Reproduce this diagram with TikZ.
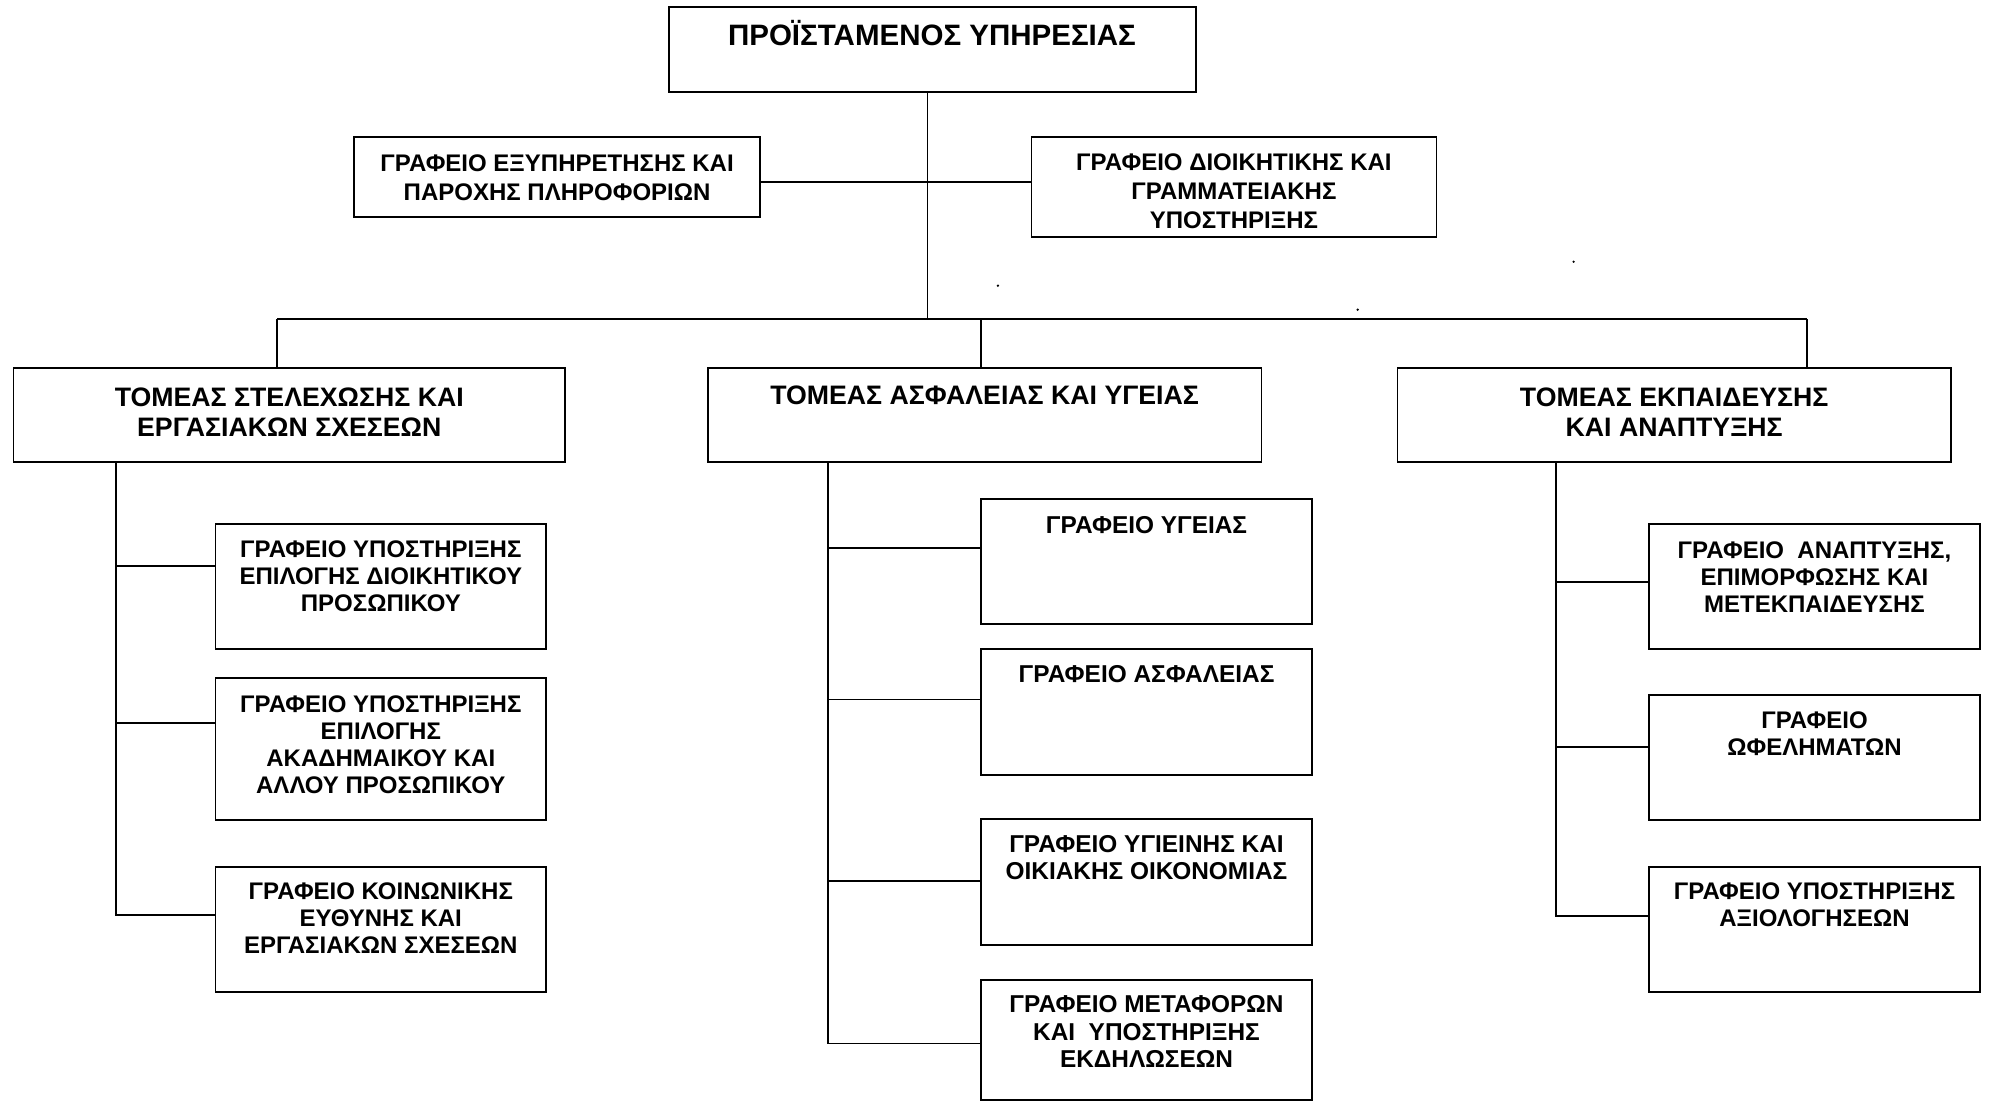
\documentclass[tikz,border=0pt]{standalone}
\usepackage{fontspec}
\setmainfont{Liberation Sans}
\newcommand\orgbox[5]{\node[box, minimum width={(#4-#2)*1pt}, minimum height={(#5-#3)*1pt}] (#1) at ({(#2+#4)/2},{(#3+#5)/2}) {};}
\begin{document}
\begin{tikzpicture}[x=1pt,y=-1pt,
  box/.style={draw, line width=1.8pt, rectangle, inner sep=0pt, outer sep=0pt},
  conn/.style={line width=1.8pt},
  ttop/.style={font=\bfseries\fontsize{29.5}{32}\selectfont, align=center, inner sep=0pt},
  tmid/.style={font=\bfseries\fontsize{24}{29}\selectfont, align=center, inner sep=0pt},
  tsec/.style={font=\bfseries\fontsize{26.7}{30}\selectfont, align=center, inner sep=0pt},
  tsub/.style={font=\bfseries\fontsize{24}{27}\selectfont, align=center, inner sep=0pt},
  tsubm/.style={font=\bfseries\fontsize{24.4}{27.5}\selectfont, align=center, inner sep=0pt},
  speck/.style={circle, fill, inner sep=0pt, minimum size=2.6pt}]
\useasboundingbox (0,0) rectangle (1990,1102);
% boxes
\orgbox{top}{668.6}{7.3}{1195.7}{91.7}
\orgbox{g1}{354.3}{136.7}{760}{216.7}
\orgbox{g2}{1031.4}{136.7}{1436.4}{236.7}
\orgbox{s1}{13.4}{368.3}{565.2}{462.3}
\orgbox{s2}{707.7}{368.3}{1261.5}{462.3}
\orgbox{s3}{1397.5}{368.3}{1950.8}{462.3}
\orgbox{l1}{215.5}{524}{546}{649.3}
\orgbox{l2}{215.5}{678.3}{546}{820}
\orgbox{l3}{215.5}{866.7}{546}{991.7}
\orgbox{m1}{981}{499}{1312}{624.3}
\orgbox{m2}{981}{649.2}{1312}{774.6}
\orgbox{m3}{981}{819.3}{1312}{944.6}
\orgbox{m4}{981}{980.2}{1312}{1100}
\orgbox{r1}{1649}{524}{1980}{649.3}
\orgbox{r2}{1649}{695}{1980}{820}
\orgbox{r3}{1649}{866.7}{1980}{991.7}
% texts
\node[ttop] (topT) at (932,33.5) {ΠΡΟΪΣΤΑΜΕΝΟΣ ΥΠΗΡΕΣΙΑΣ};
\node[tmid] (g1T) at (557.1,177.7) {ΓΡΑΦΕΙΟ ΕΞΥΠΗΡΕΤΗΣΗΣ ΚΑΙ\\ΠΑΡΟΧΗΣ ΠΛΗΡΟΦΟΡΙΩΝ};
\node[tmid] (g2T) at (1233.9,191.5) {ΓΡΑΦΕΙΟ ΔΙΟΙΚΗΤΙΚΗΣ ΚΑΙ\\ΓΡΑΜΜΑΤΕΙΑΚΗΣ\\ΥΠΟΣΤΗΡΙΞΗΣ};
\node[tsec] (s1T) at (289.3,411.7) {ΤΟΜΕΑΣ ΣΤΕΛΕΧΩΣΗΣ ΚΑΙ\\ΕΡΓΑΣΙΑΚΩΝ ΣΧΕΣΕΩΝ};
\node[tsec] (s2T) at (984.6,395) {ΤΟΜΕΑΣ ΑΣΦΑΛΕΙΑΣ ΚΑΙ ΥΓΕΙΑΣ};
\node[tsec] (s3T) at (1674.2,411.7) {ΤΟΜΕΑΣ ΕΚΠΑΙΔΕΥΣΗΣ\\ΚΑΙ ΑΝΑΠΤΥΞΗΣ};
\node[tsub] (l1T) at (380.8,576.5) {ΓΡΑΦΕΙΟ ΥΠΟΣΤΗΡΙΞΗΣ\\ΕΠΙΛΟΓΗΣ ΔΙΟΙΚΗΤΙΚΟΥ\\ΠΡΟΣΩΠΙΚΟΥ};
\node[tsub] (l2T) at (380.8,744.7) {ΓΡΑΦΕΙΟ ΥΠΟΣΤΗΡΙΞΗΣ\\ΕΠΙΛΟΓΗΣ\\ΑΚΑΔΗΜΑΙΚΟΥ ΚΑΙ\\ΑΛΛΟΥ ΠΡΟΣΩΠΙΚΟΥ};
\node[tsub] (l3T) at (380.8,918.6) {ΓΡΑΦΕΙΟ ΚΟΙΝΩΝΙΚΗΣ\\ΕΥΘΥΝΗΣ ΚΑΙ\\ΕΡΓΑΣΙΑΚΩΝ ΣΧΕΣΕΩΝ};
\node[tsubm] (m1T) at (1146.5,525.5) {ΓΡΑΦΕΙΟ ΥΓΕΙΑΣ};
\node[tsubm] (m2T) at (1146.5,673.8) {ΓΡΑΦΕΙΟ ΑΣΦΑΛΕΙΑΣ};
\node[tsubm] (m3T) at (1146.5,857.7) {ΓΡΑΦΕΙΟ ΥΓΙΕΙΝΗΣ ΚΑΙ\\ΟΙΚΙΑΚΗΣ ΟΙΚΟΝΟΜΙΑΣ};
\node[tsubm] (m4T) at (1146.5,1031.6) {ΓΡΑΦΕΙΟ ΜΕΤΑΦΟΡΩΝ\\ΚΑΙ \ ΥΠΟΣΤΗΡΙΞΗΣ\\ΕΚΔΗΛΩΣΕΩΝ};
\node[tsub] (r1T) at (1814.5,577.4) {ΓΡΑΦΕΙΟ \ ΑΝΑΠΤΥΞΗΣ,\\ΕΠΙΜΟΡΦΩΣΗΣ ΚΑΙ\\ΜΕΤΕΚΠΑΙΔΕΥΣΗΣ};
\node[tsub] (r2T) at (1814.5,733.7) {ΓΡΑΦΕΙΟ\\ΩΦΕΛΗΜΑΤΩΝ};
\node[tsub] (r3T) at (1814.5,905) {ΓΡΑΦΕΙΟ ΥΠΟΣΤΗΡΙΞΗΣ\\ΑΞΙΟΛΟΓΗΣΕΩΝ};
% stray specks
\node[speck] (d1) at (997.9,285.7) {};
\node[speck] (d2) at (1357.7,309.7) {};
\node[speck] (d3) at (1573.6,261.7) {};
% junction coordinates
\coordinate (mv) at (927.5,319);
\coordinate (hc) at (927.5,181.7);
\coordinate (busL) at (277,319);
\coordinate (busM) at (981.2,319);
\coordinate (busR) at (1806.8,319);
\coordinate (jl1) at (116,566);
\coordinate (jl2) at (116,723.3);
\coordinate (jl3) at (116,915);
\coordinate (jm1) at (828,548);
\coordinate (jm2) at (828,699.5);
\coordinate (jm3) at (828,880.6);
\coordinate (jm4) at (828,1043.5);
\coordinate (jr1) at (1555.7,581.7);
\coordinate (jr2) at (1555.7,747.3);
\coordinate (jr3) at (1555.7,915.7);
% connectors
\draw[conn] (top.south -| mv) -- (mv);
\draw[conn] (g1.east |- hc) -- (g2.west |- hc);
\draw[conn] (busL) -- (busR);
\draw[conn] (busL) -- (busL |- s1.north);
\draw[conn] (busM) -- (busM |- s2.north);
\draw[conn] (busR) -- (busR |- s3.north);
\draw[conn] (s1.south -| jl1) -- (jl3) -- (jl3 -| l3.west);
\draw[conn] (jl1) -- (jl1 -| l1.west);
\draw[conn] (jl2) -- (jl2 -| l2.west);
\draw[conn] (s2.south -| jm1) -- (jm4) -- (jm4 -| m4.west);
\draw[conn] (jm1) -- (jm1 -| m1.west);
\draw[conn] (jm2) -- (jm2 -| m2.west);
\draw[conn] (jm3) -- (jm3 -| m3.west);
\draw[conn] (s3.south -| jr1) -- (jr3) -- (jr3 -| r3.west);
\draw[conn] (jr1) -- (jr1 -| r1.west);
\draw[conn] (jr2) -- (jr2 -| r2.west);
\end{tikzpicture}
\end{document}
